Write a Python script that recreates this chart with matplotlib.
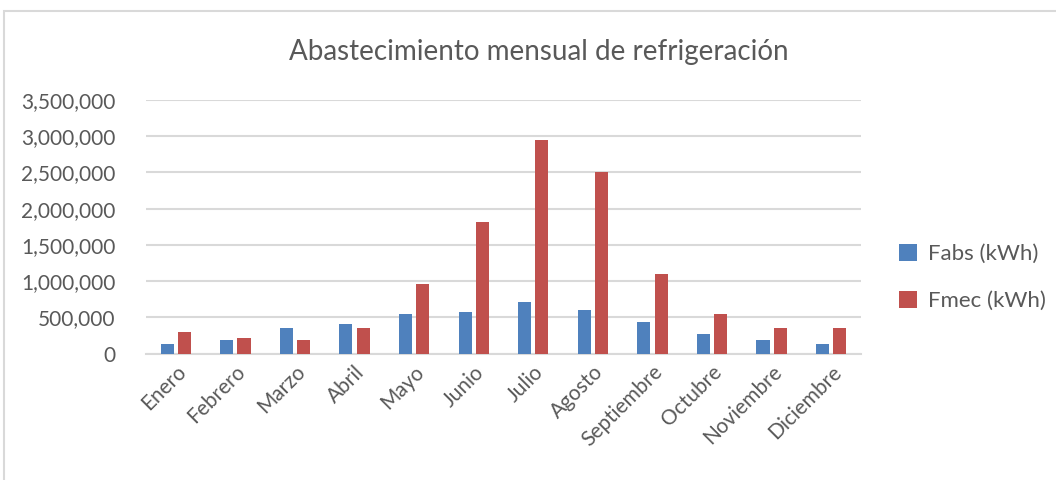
import matplotlib
matplotlib.use("Agg")
import matplotlib.pyplot as plt
import numpy as np
from matplotlib.patches import Rectangle
from matplotlib.ticker import FuncFormatter

# monthly values (kWh)
meses = ["Enero", "Febrero", "Marzo", "Abril", "Mayo", "Junio", "Julio",
         "Agosto", "Septiembre", "Octubre", "Noviembre", "Diciembre"]
fabs = [130000, 185000, 350000, 405000, 545000, 570000, 710000,
        600000, 435000, 265000, 185000, 130000]
fmec = [295000, 212000, 185000, 350000, 957000, 1815000, 2945000,
        2505000, 1095000, 545000, 350000, 350000]

BLUE = "#4F81BD"
RED = "#C0504D"
TXT = "#595959"
GRID = "#D9D9D9"

plt.rcParams["font.family"] = ["Lato", "DejaVu Sans"]

W, H = 1056, 480
fig = plt.figure(figsize=(W / 100, H / 100), dpi=100)

# chart frame (cropped on right/bottom like the screenshot)
fig.add_artist(Rectangle((4 / W, -0.1), 1.2, (469 / H) + 0.1,
                         transform=fig.transFigure, fill=False,
                         edgecolor=GRID, linewidth=1.5))

ax = fig.add_axes([146 / W, (H - 353.5) / H, 715 / W, 253.5 / H])

x = np.arange(len(meses))
bw = 0.22
ax.bar(x - 0.145, fabs, bw, color=BLUE, label="Fabs (kWh)", zorder=3)
ax.bar(x + 0.145, fmec, bw, color=RED, label="Fmec (kWh)", zorder=3)

ax.set_xlim(-0.5, len(meses) - 0.5)
ax.set_ylim(0, 3500000)
ax.set_yticks(np.arange(0, 3500001, 500000))
ax.yaxis.set_major_formatter(FuncFormatter(lambda v, p: f"{int(v):,}"))
ax.grid(axis="y", color=GRID, linewidth=1.5, zorder=0)
for s in ["top", "right", "left"]:
    ax.spines[s].set_visible(False)
ax.spines["bottom"].set_color(GRID)
ax.spines["bottom"].set_linewidth(1.5)
ax.tick_params(length=0, colors=TXT, labelsize=15)
ax.tick_params(axis="y", pad=22)
ax.tick_params(axis="x", pad=6)

ax.set_xticks(x)
ax.set_xticklabels(meses, rotation=45, ha="right", rotation_mode="anchor",
                   fontsize=15)

fig.text(539 / W, 1 - 52 / H, "Abastecimiento mensual de refrigeración",
         ha="center", va="center", fontsize=20, color=TXT)

ax.legend(loc="center left", bbox_to_anchor=(1.025, 0.30), frameon=False,
          fontsize=16, labelcolor=TXT, handlelength=0.8, handleheight=0.8,
          handletextpad=0.5, labelspacing=1.2)

fig.savefig("out.png", dpi=100)
